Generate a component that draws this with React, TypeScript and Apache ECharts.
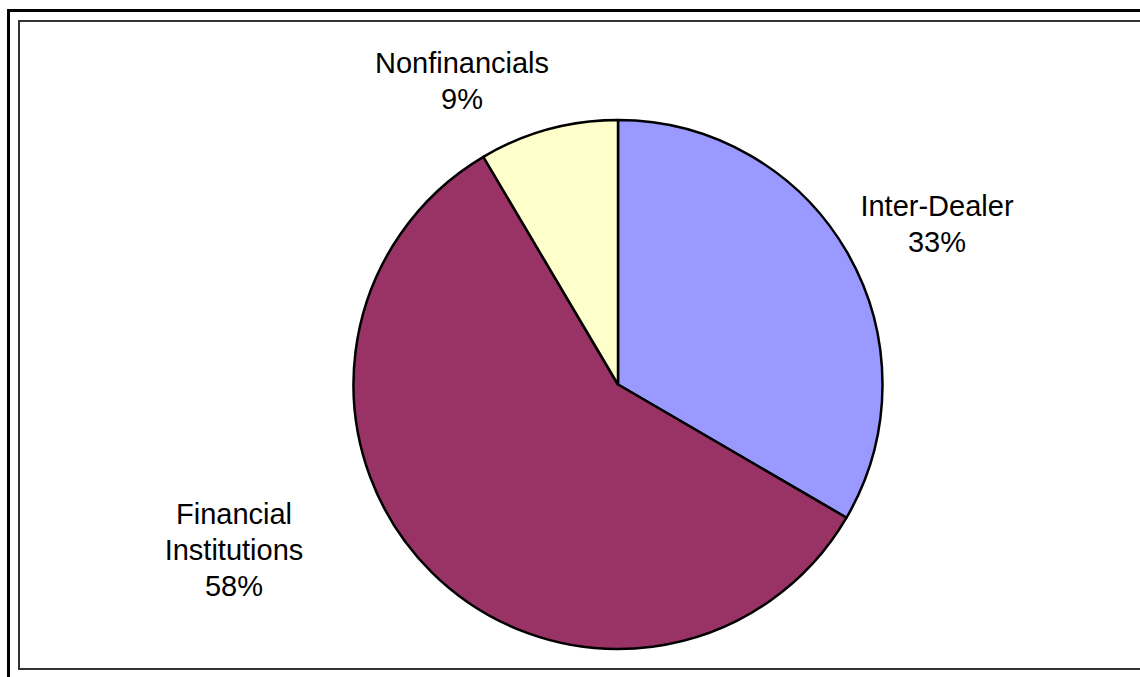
import React, { useEffect, useRef } from "react";
import * as echarts from "echarts";

const categories = ["Inter-Dealer", "Financial Institutions", "Nonfinancials"];
const labelNames = ["Inter-Dealer", "Financial\nInstitutions", "Nonfinancials"];
const values = [33.4, 58.1, 8.5];
const colors = ["#9999FF", "#993366", "#FFFFCC"];

export default function App() {
  const ref = useRef<HTMLDivElement>(null);
  useEffect(() => {
    if (!ref.current) return;
    const chart = echarts.init(ref.current, null, { renderer: "svg" });
    const labelPos: Record<number, [number, number]> = {
      0: [937, 224],
      1: [234, 550],
      2: [462, 81],
    };
    chart.setOption({
      animation: false,
      backgroundColor: "#ffffff",
      graphic: [
        {
          type: "line",
          shape: { x1: 8.5, y1: 10, x2: 8.5, y2: 677 },
          style: { stroke: "#000", lineWidth: 3 },
          silent: true,
        },
        {
          type: "line",
          shape: { x1: 7, y1: 10.5, x2: 1140, y2: 10.5 },
          style: { stroke: "#000", lineWidth: 3 },
          silent: true,
        },
        {
          type: "rect",
          shape: { x: 19, y: 21, width: 1130, height: 648 },
          style: { fill: "none", stroke: "#333", lineWidth: 2 },
          silent: true,
        },
      ],
      series: [
        {
          type: "pie",
          center: [618, 384.5],
          radius: 264.5,
          startAngle: 90,
          clockwise: true,
          percentPrecision: 0,
          data: categories.map((c, i) => ({
            name: c,
            value: values[i],
            itemStyle: { color: colors[i] },
            label: { formatter: labelNames[i] + "\n{d}%" },
          })),
          itemStyle: { borderColor: "#000", borderWidth: 2.5 },
          label: {
            show: true,
            position: "outside",
            color: "#000",
            fontFamily: "Liberation Sans, Arial, sans-serif",
            fontSize: 29,
            lineHeight: 36,
            align: "center",
          },
          labelLine: { show: false },
          labelLayout: (params: any) => {
            const p = labelPos[params.dataIndex];
            return { x: p[0], y: p[1], align: "center", verticalAlign: "middle" };
          },
          emphasis: { disabled: true },
        },
      ],
    });
    return () => chart.dispose();
  }, []);
  return (
    <div
      ref={ref}
      style={{ position: "fixed", left: 0, top: 0, width: 1140, height: 677 }}
    />
  );
}
